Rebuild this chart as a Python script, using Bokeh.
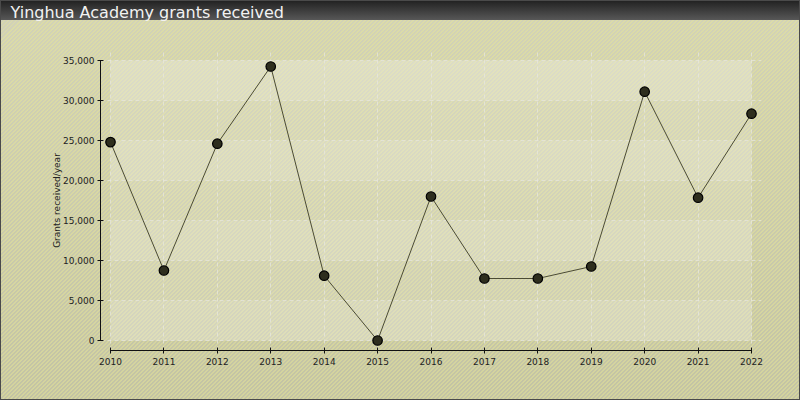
from bokeh.plotting import figure
from bokeh.models import (BoxAnnotation, FixedTicker, NumeralTickFormatter,
                          ColumnDataSource, Range1d, Title)
from bokeh.embed import file_html
from bokeh.resources import INLINE

years = [2010, 2011, 2012, 2013, 2014, 2015, 2016, 2017, 2018, 2019, 2020, 2021, 2022]
grants = [24800, 8750, 24600, 34250, 8100, 0, 18000, 7750, 7750, 9250, 31100, 17850, 28350]
y_ticks = [0, 5000, 10000, 15000, 20000, 25000, 30000, 35000]
title_text = "Yinghua Academy grants received"
y_label = "Grants received/year"

W, H = 800, 400
FL, FR, FT, FB = 100, 39, 50, 50
frame_w = W - FL - FR
frame_h = H - FT - FB
xpad = 10 * (years[-1] - years[0]) / (frame_w - 20)
ypad = 10 * (y_ticks[-1] - y_ticks[0]) / (frame_h - 20)

bg_css = ("linear-gradient(to bottom, #202020, #575757) top left / 100% 20px no-repeat, "
          "repeating-linear-gradient(135deg, rgba(232,232,150,0.45) 0px, rgba(232,232,150,0.45) 1.4px, "
          "rgba(0,0,0,0) 1.4px, rgba(0,0,0,0) 2.83px), "
          "linear-gradient(to bottom, #d3d3b8, #c3c3a4)")

p = figure(width=W, height=H, output_backend="svg", toolbar_location=None,
           x_range=Range1d(years[0] - xpad, years[-1] + xpad),
           y_range=Range1d(y_ticks[0] - ypad, y_ticks[-1] + ypad),
           min_border_left=FL, min_border_right=FR, min_border_top=FT, min_border_bottom=FB,
           title=None,
           styles={"background": bg_css, "box-shadow": "inset 0 0 0 1px #4a4a4a"})
p.border_fill_color = None
p.background_fill_color = None
p.outline_line_color = None

# spacer between frame and title, then the title itself (stacked outward)
spacer = Title(text=" ", text_font_size="1px", standoff=22)
p.add_layout(spacer, "above")
main_title = Title(text=title_text, align="left", vertical_align="top", offset=-90,
                   standoff=4, text_font="DejaVu Sans", text_font_size="16px",
                   text_font_style="normal", text_color="#f2f2f2")
p.add_layout(main_title, "above")

# plot area bands
for i in range(len(y_ticks) - 1):
    light = (i % 2 == 0)
    p.add_layout(BoxAnnotation(left=years[0], right=years[-1],
                               bottom=y_ticks[i], top=y_ticks[i + 1],
                               fill_color="#f4f4ec", fill_alpha=0.32 if light else 0.18,
                               line_color=None, level="image"))

# grids
p.xgrid.ticker = FixedTicker(ticks=years)
p.ygrid.ticker = FixedTicker(ticks=y_ticks)
p.xgrid.bounds = (y_ticks[0], y_ticks[-1])
p.ygrid.bounds = (years[0], years[-1])
for g in (p.xgrid, p.ygrid):
    g.grid_line_color = "#e8e8e0"
    g.grid_line_alpha = 0.7
    g.grid_line_dash = "4 3"
    g.grid_line_width = 1

# data
src = ColumnDataSource(dict(x=years, y=grants))
p.line("x", "y", source=src, line_color="#4b4b33", line_width=1)
p.scatter("x", "y", source=src, size=9.5, fill_color="#2e2e1e", line_color="#000000", line_width=1.2)

# axes
p.xaxis.ticker = FixedTicker(ticks=years)
p.yaxis.ticker = FixedTicker(ticks=y_ticks)
p.yaxis.formatter = NumeralTickFormatter(format="0,0")
p.xaxis.bounds = (years[0], years[-1])
p.yaxis.bounds = (y_ticks[0], y_ticks[-1])
for ax in (p.xaxis, p.yaxis):
    ax.axis_line_color = "#111111"
    ax.major_tick_line_color = "#111111"
    ax.major_tick_in = 3
    ax.major_tick_out = 3
    ax.minor_tick_line_color = None
    ax.major_label_text_font = "DejaVu Sans"
    ax.major_label_text_font_size = "9px"
    ax.major_label_text_color = "#222222"
    ax.axis_label_text_font = "DejaVu Sans"
    ax.axis_label_text_font_size = "9px"
    ax.axis_label_text_font_style = "normal"
    ax.axis_label_text_color = "#222222"
p.xaxis.major_label_standoff = 4
p.yaxis.major_label_standoff = 3
p.yaxis.axis_label = y_label
p.yaxis.axis_label_standoff = -2

open("out.html", "w").write(file_html(p, INLINE))
